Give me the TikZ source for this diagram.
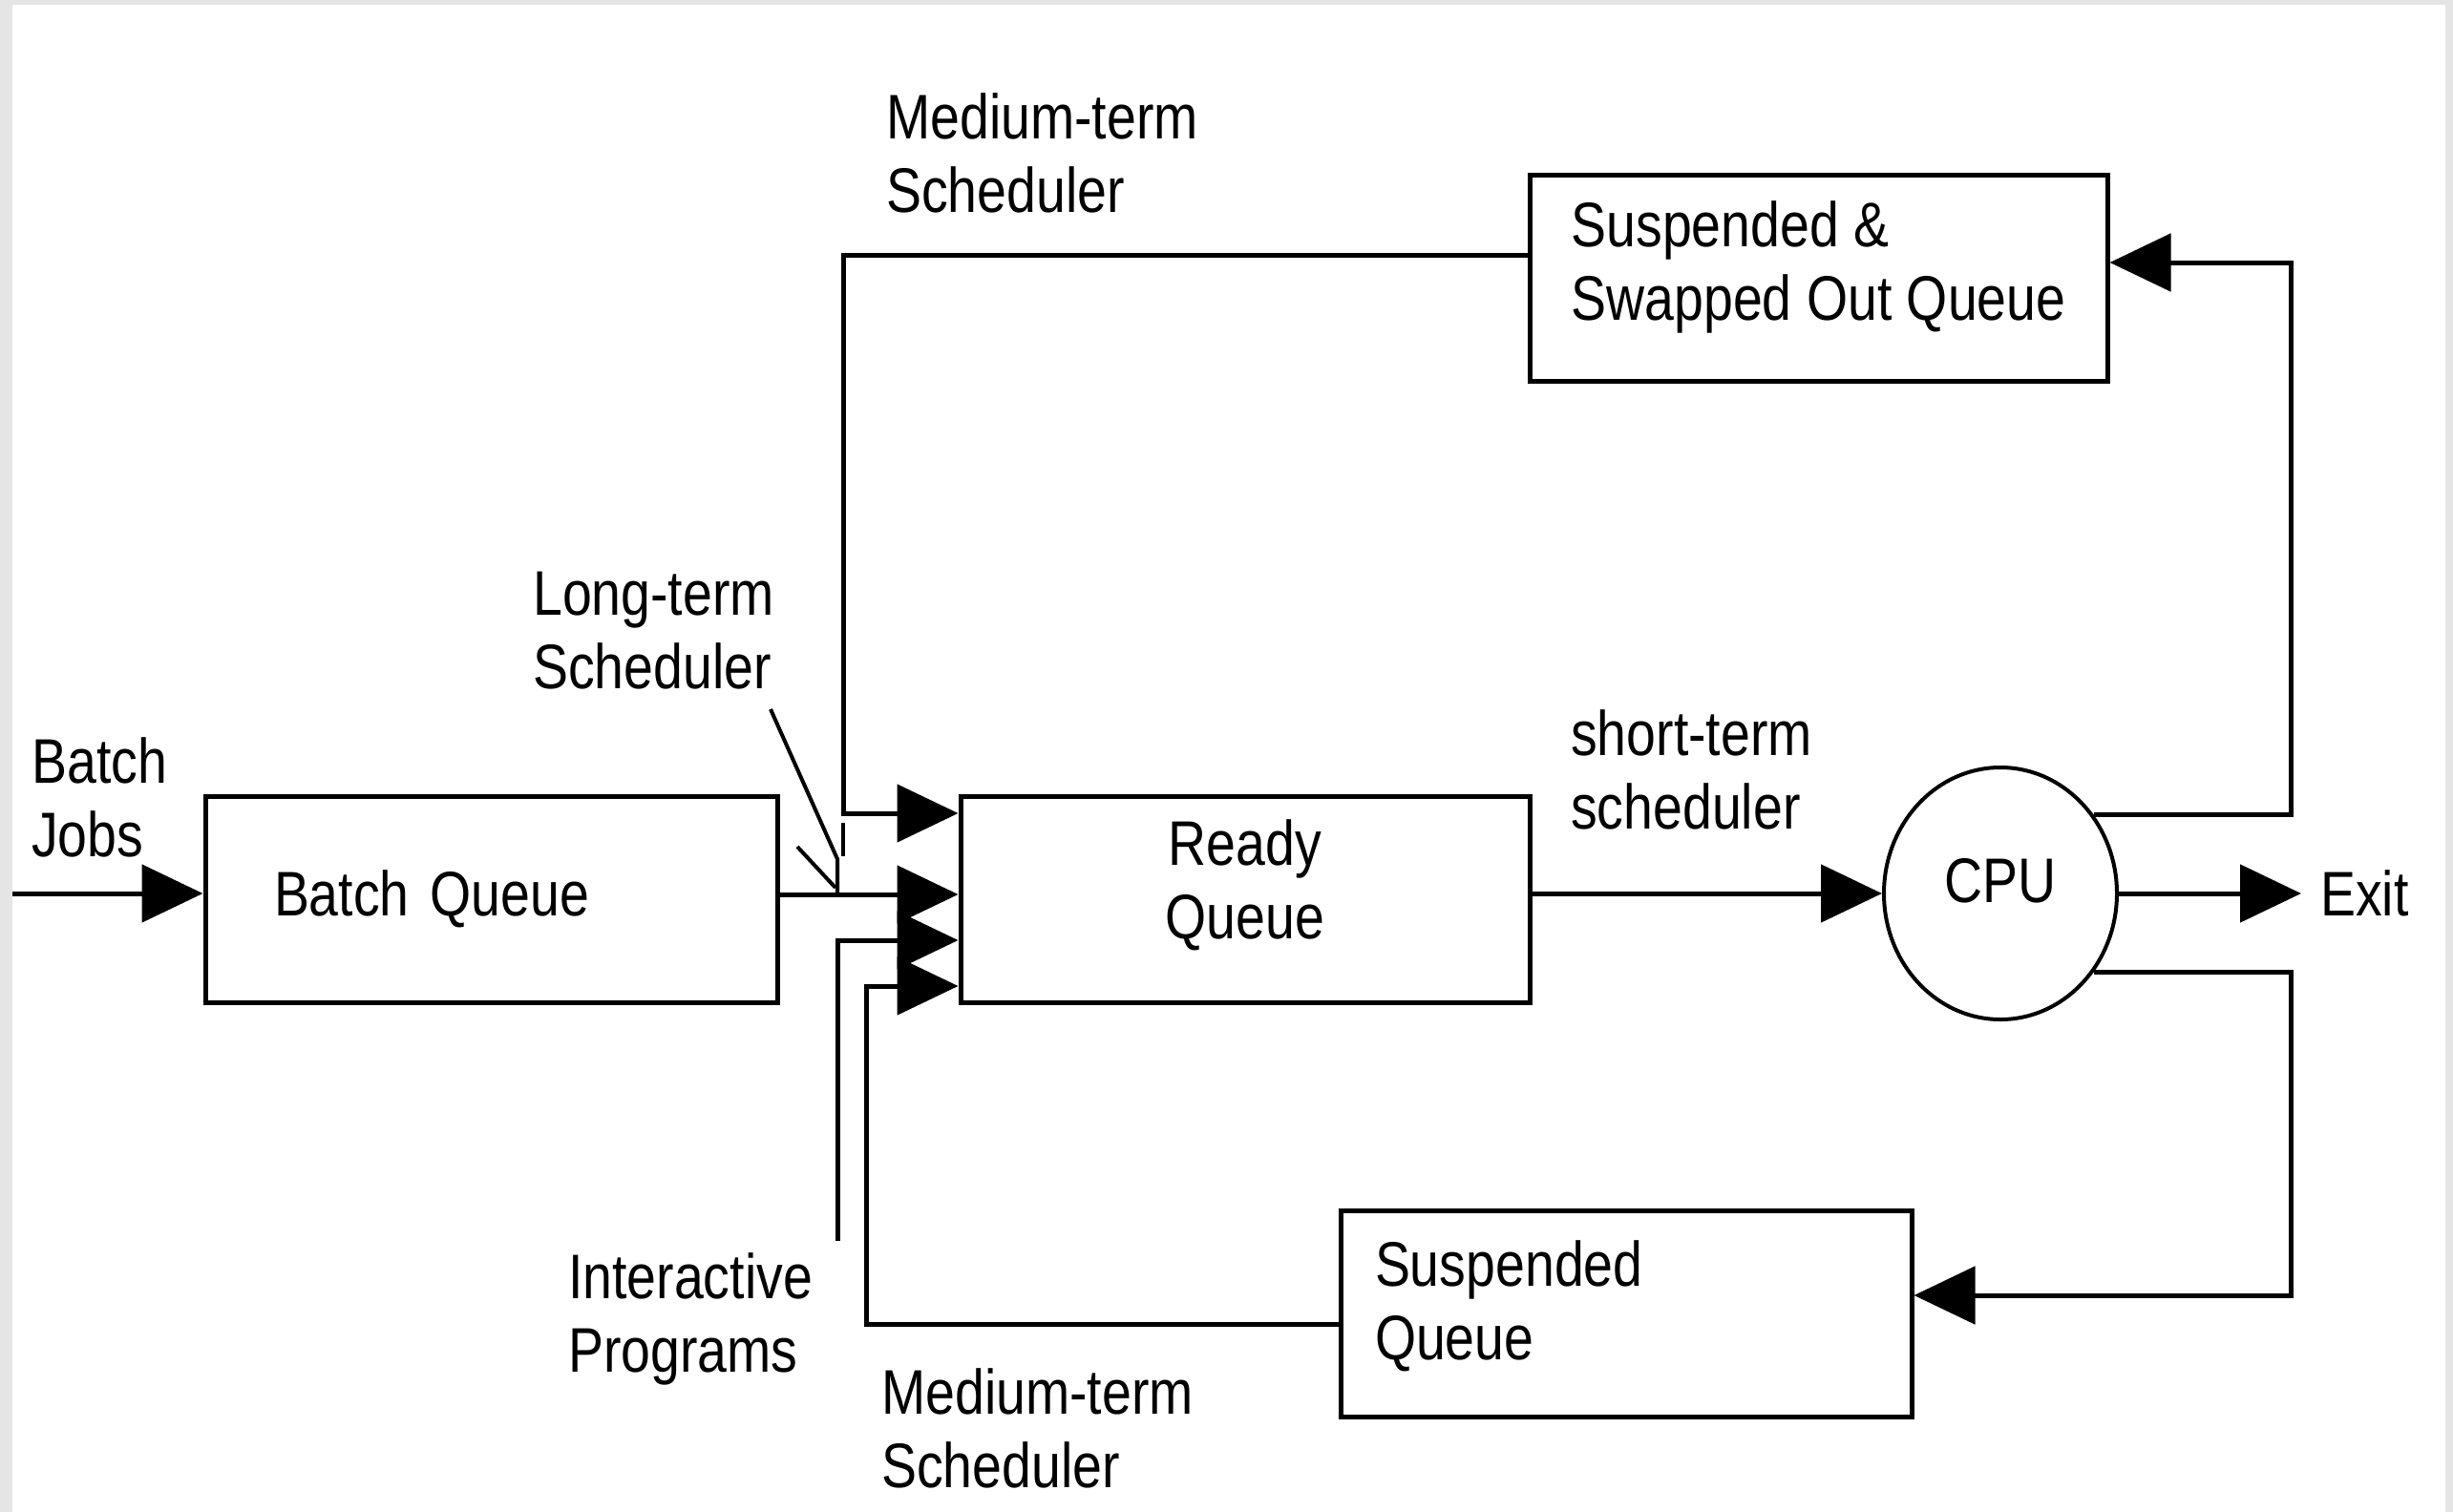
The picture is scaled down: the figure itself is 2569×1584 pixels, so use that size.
\documentclass[tikz,border=0pt]{standalone}
\usepackage{fontspec}
\setmainfont{Liberation Sans}[FakeStretch=0.84]
\usetikzlibrary{arrows.meta,shapes.geometric}
\begin{document}
\begin{tikzpicture}[x=1pt,y=-1pt,>={Triangle[length=64pt,width=60pt]},line join=miter,font=\fontsize{66}{77}\selectfont]
\useasboundingbox (0,0) rectangle (2569,1584);
\path[fill=black!10] (0,0) rectangle (2569,1584);
\path[fill=white] (13,5) rectangle (2561,1584);
\tikzset{wire/.style={draw=black,line width=5pt},flow/.style={wire,->},thinwire/.style={draw=black,line width=4pt},box/.style={draw=black,line width=5pt,minimum height=216pt,inner ysep=0pt},lbl/.style={anchor=west,align=left,inner sep=0pt}}
% queues and processor
\node[box,inner xsep=72pt,text width=455pt,align=left] (batch) at (514.5,942) {Batch Queue};
\node[box,minimum width=596pt,align=center,text depth=42pt] (ready) at (1304,942) {Ready\\Queue};
\node[box,minimum width=605pt,align=left,text depth=36pt] (swapped) at (1904.5,291.5) {Suspended \&\\Swapped Out Queue};
\node[box,inner xsep=36pt,text width=526pt,align=left,text depth=104pt] (susp) at (1703,1376) {Suspended\\Queue};
\node[ellipse,draw=black,line width=4pt,minimum width=244pt,minimum height=264pt,inner sep=0pt,text depth=28pt] (cpu) at (2095,936) {CPU};
\node[anchor=west,inner xsep=20pt,inner ysep=0pt] (exit) at (2410,936) {Exit};
% labels
\node[lbl] (jobslbl) at (33,835) {Batch\\Jobs};
\node[lbl] (ltlbl) at (558,661) {Long-term\\Scheduler};
\node[lbl] (mtoplbl) at (928,160) {Medium-term\\Scheduler};
\node[lbl] (stlbl) at (1645,806) {short-term\\scheduler};
\node[lbl] (iplbl) at (595,1382) {Interactive\\Programs};
\node[lbl] (mbotlbl) at (923,1496) {Medium-term\\Scheduler};
% turning points
\coordinate (jobs) at (13,936); \coordinate (jct) at (877,937);
\coordinate (mtop) at (883,267); \coordinate (mtopin) at (883,852);
\coordinate (iprog) at (877,1300); \coordinate (iprogin) at (877,985);
\coordinate (mbot) at (907,1387); \coordinate (mbotin) at (907,1033);
\coordinate (rtop) at (2399,275); \coordinate (rbot) at (2399,1357);
% connectors
\draw[flow] (jobs) -- (jobs -| batch.west);
\draw[flow] (jct -| batch.east) -- (jct -| ready.west);
\draw[flow] (mtop -| swapped.west) -- (mtop) -- (mtopin) -- (mtopin -| ready.west);
\draw[flow] (iprog) -- (iprogin) -- (iprogin -| ready.west);
\draw[flow] (mbot -| susp.west) -- (mbot) -- (mbotin) -- (mbotin -| ready.west);
\draw[flow] (cpu.west -| ready.east) -- (cpu.west);
\draw[flow] (cpu.east) -- (exit.west);
\draw[flow] (cpu.40) -| (rtop) -- (rtop -| swapped.east);
\draw[flow] (cpu.-40) -| (rbot) -- (rbot -| susp.east);
% long-term pointer
\draw[thinwire] (807,743) -- (877,900) -- (jct);
\draw[thinwire] (835,887) -- (875,930);
\draw[thinwire] (883,862) -- (883,897);
\end{tikzpicture}
\end{document}
